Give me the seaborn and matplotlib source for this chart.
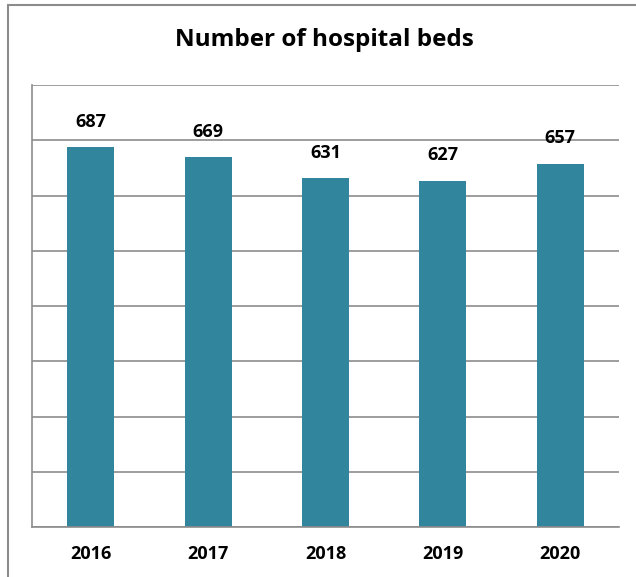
import numpy as np
import pandas as pd
import matplotlib
matplotlib.use("Agg")
import matplotlib.pyplot as plt
import seaborn as sns
from matplotlib.patches import Rectangle

years = ["2016", "2017", "2018", "2019", "2020"]
beds = [687, 669, 631, 627, 657]

BAR_COLOR = "#31859c"
GRID_COLOR = "#8c8c8c"

sns.set_style("white")
plt.rcParams['font.family'] = ['Open Sans', 'DejaVu Sans']
plt.rcParams['text.color'] = 'black'
plt.rcParams['xtick.color'] = 'black'

df = pd.DataFrame({"Year": years, "Beds": beds})

fig = plt.figure(figsize=(6.36, 5.77), dpi=100)
ax = fig.add_axes([32 / 636, 1 - 527 / 577, (619 - 32) / 636, (527 - 85) / 577])

sns.barplot(data=df, x="Year", y="Beds", color=BAR_COLOR, width=0.4,
            saturation=1, linewidth=0, ax=ax)

ax.set_ylim(0, 800)
ax.set_xlim(-0.5, len(years) - 0.5)
ax.set_yticks(np.arange(0, 801, 100))
ax.set_yticklabels([])
ax.tick_params(axis='y', length=0)
ax.yaxis.grid(True, color=GRID_COLOR, linewidth=1.2)
ax.set_axisbelow(True)

# category boundary ticks on the x axis
ax.set_xticks(np.arange(-0.5, len(years), 1.0), minor=True)
ax.tick_params(axis='x', which='minor', length=6, width=1.2, color=GRID_COLOR)
ax.tick_params(axis='x', which='major', length=0, pad=13, labelcolor='black')
ax.set_xticks(range(len(years)))
ax.set_xticklabels(years, fontsize=13, fontweight='bold')

for side in ['top', 'right']:
    ax.spines[side].set_visible(False)
for side in ['left', 'bottom']:
    ax.spines[side].set_color(GRID_COLOR)
    ax.spines[side].set_linewidth(1.2)

ax.set_xlabel("")
ax.set_ylabel("")

for i, v in enumerate(beds):
    ax.annotate('%d' % v, (i, v), xytext=(0, 12), textcoords='offset points',
                ha='center', va='bottom', fontsize=13, fontweight='bold')

fig.text(324 / 636, 1 - 40 / 577, "Number of hospital beds", ha='center', va='center',
         fontsize=17.5, fontweight='bold')

# outer chart frame
fig.patches.append(Rectangle((8 / 636, -0.05), 1.1, 1 - 5 / 577 + 0.05,
                             transform=fig.transFigure, fill=False,
                             edgecolor=GRID_COLOR, linewidth=1.5))

fig.savefig("out.png", dpi=100)
